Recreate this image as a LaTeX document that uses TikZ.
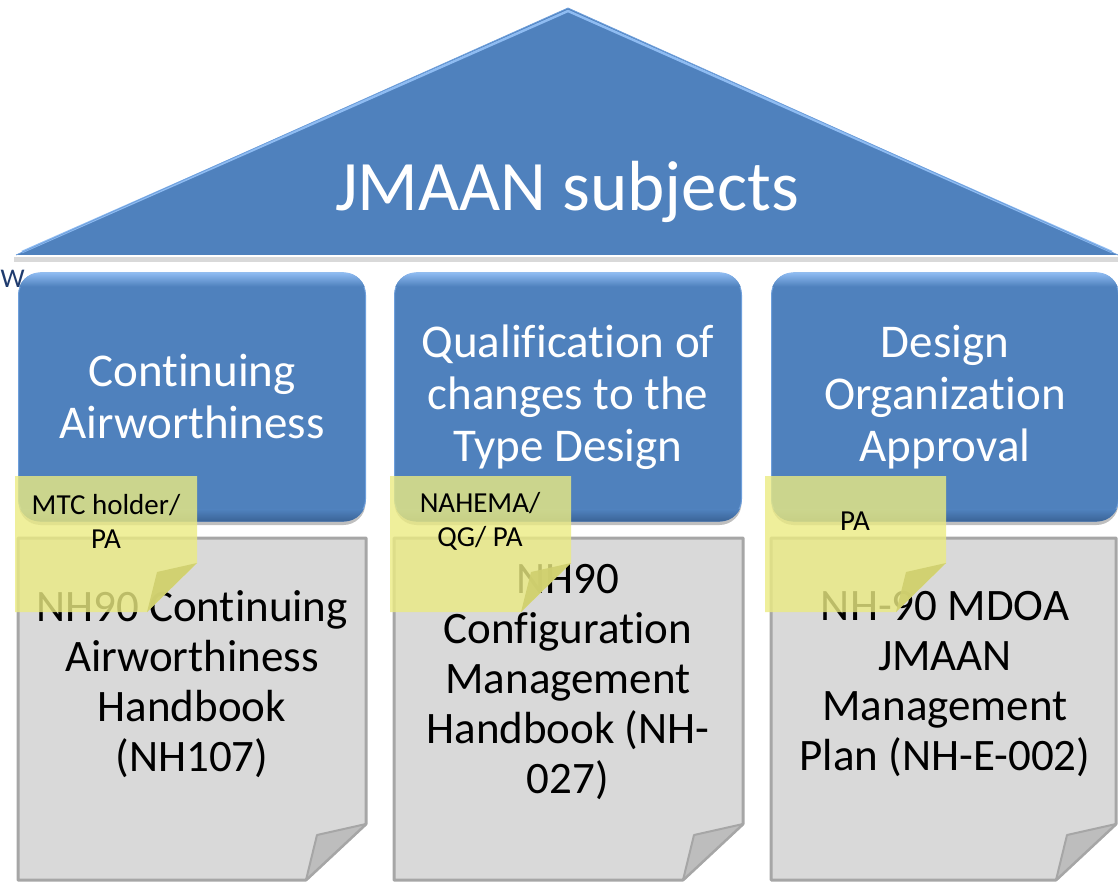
\documentclass[tikz,border=0pt]{standalone}
\usepackage{fontspec}
\setmainfont{Carlito}[Ligatures={NoCommon}]
\usetikzlibrary{shadows}
\definecolor{roofblue}{HTML}{4F81BD}
\definecolor{hlblue}{HTML}{8FBCF2}
\definecolor{edgeblue}{HTML}{6E9FDB}
\definecolor{darkblue}{HTML}{3A6396}
\definecolor{docfill}{HTML}{D9D9D9}
\definecolor{docedge}{HTML}{A6A6A6}
\definecolor{flapgray}{HTML}{BDBDBD}
\definecolor{noteyel}{HTML}{EBEB82}
\definecolor{flapyel}{HTML}{CFCF6E}
\definecolor{wblue}{HTML}{1F3B6E}
\tikzset{
  bluebox/.style={shape=rectangle, rounded corners=22pt, fill=roofblue, draw=edgeblue, line width=1pt,
    minimum width=347pt, minimum height=248pt, inner sep=0pt,
    drop shadow={shadow xshift=0pt, shadow yshift=-4pt, opacity=0.25, fill=black}},
  bluetext/.style={text=white, align=center, inner sep=0pt, font=\fontsize{47}{52}\selectfont},
  doctext/.style={align=center, text=black, inner sep=0pt, font=\fontsize{45}{50}\selectfont},
  notetext/.style={align=center, text=black, inner sep=0pt, font=\fontsize{29}{34}\selectfont},
  docshape/.style={fill=docfill, draw=docedge, line width=3pt, line join=round},
  flapshape/.style={fill=flapgray, draw=docedge, line width=2pt, line join=round},
  noteshape/.style={fill=noteyel, fill opacity=0.8, draw=none},
  noteflap/.style={fill=flapyel, fill opacity=0.9, draw=none},
}
\begin{document}
\begin{tikzpicture}[x=1pt,y=-1pt]
\useasboundingbox (0,0) rectangle (1118,882);
% roof
\fill[black, opacity=0.15] (14,257) -- (1118,257) -- (1118,262) -- (14,262) -- cycle;
\fill[roofblue] (16,255) -- (568,8) -- (1118,255) -- cycle;
\draw[hlblue, line width=2.5pt, line join=round] (22,252) -- (568,11) -- (1112,252);
\draw[edgeblue, line width=0.8pt, line join=round] (16,255) -- (568,8) -- (1118,255);
\node[text=white, inner sep=0pt, font=\fontsize{71}{80}\selectfont] (title) at (567,192) {JMAAN subjects};
% blue boxes
\node[bluebox] (b1) at (192,397) {};
\node[bluebox] (b2) at (568,397) {};
\node[bluebox] (b3) at (945,397) {};
\foreach \b in {b1,b2,b3}{
  \begin{scope}
    \clip[rounded corners=22pt] (\b.north west) rectangle (\b.south east);
    \shade[top color=hlblue, bottom color=roofblue] (\b.north west) rectangle ([yshift=-14pt]\b.north east);
    \shade[top color=roofblue, bottom color=darkblue] ([yshift=12pt]\b.south west) rectangle (\b.south east);
  \end{scope}
}
\node[anchor=base west, text=wblue, inner sep=0pt, font=\fontsize{27}{32}\selectfont] (w) at (0.5,288) {W};
\node[bluetext] (t1) at (b1.center) {Continuing\\Airworthiness};
\node[bluetext] (t2) at (b2.center) {Qualification of\\changes to the\\Type Design};
\node[bluetext] (t3) at (b3.center) {Design\\Organization\\Approval};
% documents
\foreach \xa/\xb in {18/366, 394/743, 771/1116}{
  \path[docshape] (\xa,538) -- (\xb,538) -- (\xb,824) -- (\xb-60,880) -- (\xa,880) -- cycle;
  \path[flapshape] (\xb,824) -- (\xb-49,835) -- (\xb-60,880) -- cycle;
}
\node[doctext] (d1) at (192,684) {NH90 Continuing\\Airworthiness\\Handbook\\(NH107)};
\node[doctext] (d2) at (568,682) {NH90\\Configuration\\Management\\Handbook (NH-\\027)};
\node[doctext] (d3) at (945,684) {NH-90 MDOA\\JMAAN\\Management\\Plan (NH-E-002)};
% notes
\foreach \xa/\xb in {15/197, 390/571, 765/946}{
  \path[noteshape] (\xa,476) -- (\xb,476) -- (\xb,563) -- (\xb-50,612) -- (\xa,612) -- cycle;
  \path[noteflap] (\xb,563) -- (\xb-40,572) -- (\xb-50,612) -- cycle;
}
\node[notetext] (n1) at (106,521) {MTC holder/\\PA};
\node[notetext] (n2) at (480,521) {NAHEMA/\\QG/ PA};
\node[notetext] (n3) at (855,521) {PA};
\end{tikzpicture}
\end{document}
